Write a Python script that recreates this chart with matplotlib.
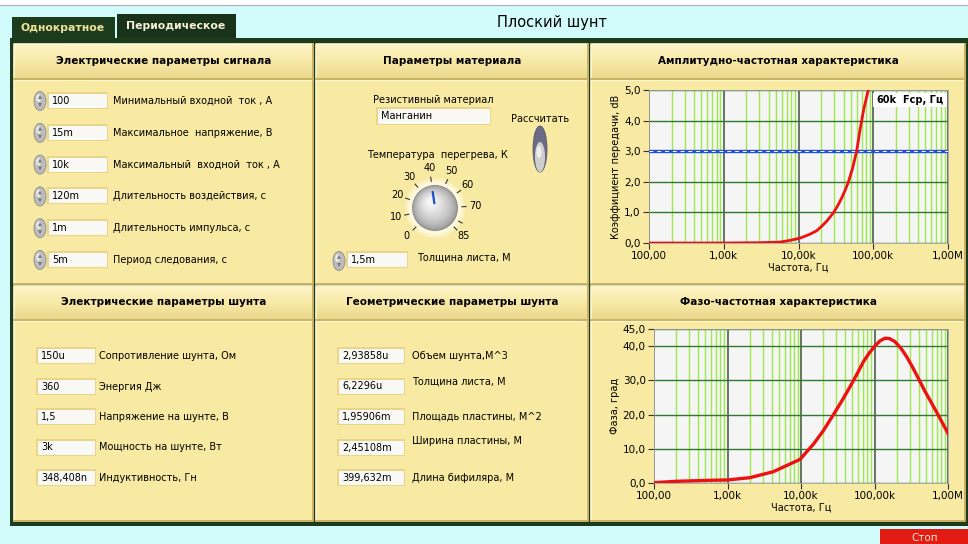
import numpy as np
import matplotlib.pyplot as plt
from matplotlib.patches import Rectangle, Ellipse, Circle, Polygon
from matplotlib.colors import LinearSegmentedColormap, to_rgb
from matplotlib.ticker import LogLocator

# --- данные ---
sig_values = ["100", "15m", "10k", "120m", "1m", "5m"]
sig_labels = ["Минимальный входной  ток , А", "Максимальное  напряжение, В",
              "Максимальный  входной  ток , А", "Длительность воздействия, с",
              "Длительность импульса, с", "Период следования, с"]

shunt_values = ["150u", "360", "1,5", "3k", "348,408n"]
shunt_labels = ["Сопротивление шунта, Ом", "Энергия Дж", "Напряжение на шунте, В",
                "Мощность на шунте, Вт", "Индуктивность, Гн"]

geom_values = ["2,93858u", "6,2296u", "1,95906m", "2,45108m", "399,632m"]
geom_labels = ["Объем шунта,М^3", "Толщина листа, М", "Площадь пластины, М^2",
               "Ширина пластины, М", "Длина бифиляра, М"]

material = "Манганин"
sheet_thickness = "1,5m"
dial_ticks = [0, 10, 20, 30, 40, 50, 60, 70, 85]
dial_value = 40
dial_max = 85

fcp = 60000
amp_freq = [100, 1000, 3000, 5660, 7500, 10500, 14000, 17500, 20500, 23800,
            29200, 33500, 37800, 42000, 46300, 53000, 60000, 66500, 75200, 85900]
amp_gain = [0.0, 0.0, 0.01, 0.03, 0.08, 0.16, 0.28, 0.40, 0.55, 0.71,
            0.98, 1.22, 1.47, 1.72, 1.98, 2.45, 3.0, 3.70, 4.41, 5.0]

phase_freq = [100, 204, 609, 1020, 2020, 4200, 9700, 14700, 20000, 27500,
              36000, 46400, 58000, 70500, 85000, 101600, 120000, 139000,
              160000, 190000, 230000, 274000, 330000, 395000, 480000,
              600000, 760000, 1000000]
phase_deg = [0.1, 0.5, 0.8, 0.9, 1.56, 3.3, 6.9, 11.3, 15.2, 19.9,
             24.0, 28.1, 31.9, 35.4, 38.0, 40.1, 41.6, 42.3,
             42.2, 41.3, 39.3, 36.9, 33.8, 30.6, 27.0,
             23.3, 19.3, 14.5]

freq_ticks = [1e2, 1e3, 1e4, 1e5, 1e6]
freq_tick_labels = ["100,00", "1,00k", "10,00k", "100,00k", "1,00M"]
gain_ticks = [0, 1, 2, 3, 4, 5]
gain_tick_labels = ["0,0", "1,0", "2,0", "3,0", "4,0", "5,0"]
phase_ticks = [0, 10, 20, 30, 40, 45]
phase_tick_labels = ["0,0", "10,0", "20,0", "30,0", "40,0", "45,0"]

W, H = 968, 544
PANEL = "#f8eaa2"
HI = "#fff9d8"
SHADE = "#c9b265"
FRAME = "#1d3b1d"

fig = plt.figure(figsize=(9.68, 5.44), dpi=100)
fig.patch.set_facecolor("#d2fcfc")
bg = fig.add_axes([0, 0, 1, 1])
bg.axis("off")

hdr_cmap = LinearSegmentedColormap.from_list("hdr", ["#fdf4c6", "#f8e9a6", "#ead78c"])


def rect(x0, y0, x1, y1, fc, z=1, ec="none", lw=0):
    bg.add_patch(Rectangle((x0, y0), x1 - x0, y1 - y0, facecolor=fc,
                           edgecolor=ec, linewidth=lw, zorder=z))


def bevel(x0, y0, x1, y1, z=3):
    bg.plot([x0, x0, x1], [y1, y0, y0], color=HI, lw=1.2, zorder=z)
    bg.plot([x0, x1, x1], [y1, y1, y0], color=SHADE, lw=1.4, zorder=z)


def panel(x0, y0, x1, y1):
    rect(x0, y0, x1, y1, PANEL, z=2)
    bevel(x0, y0, x1, y1)


def header(x0, y0, x1, y1, text):
    grad = np.linspace(0, 1, 40).reshape(-1, 1)
    bg.imshow(grad, extent=[x0, x1, y1, y0], cmap=hdr_cmap, aspect="auto",
              zorder=2, interpolation="bilinear")
    bevel(x0, y0, x1, y1)
    bg.text((x0 + x1) / 2, (y0 + y1) / 2 - 1, text, ha="center", va="center",
            fontsize=7.5, fontweight="bold", color="black", zorder=5)


def field(x0, yc, x1, text, h=14):
    rect(x0 - 2, yc - h / 2 - 2, x1 + 1, yc + h / 2 + 1, "#ead48a", z=4)
    rect(x0, yc - h / 2, x1, yc + h / 2, "#f8f8f4", z=4)
    bg.text(x0 + 3, yc, text, ha="left", va="center", fontsize=7, zorder=5)


def spinner(xc, yc):
    bg.add_patch(Ellipse((xc, yc), 12, 19, facecolor="#bdbdbd",
                         edgecolor="#8a8a8a", lw=0.6, zorder=4))
    bg.add_patch(Ellipse((xc - 1.5, yc - 3), 5, 8, facecolor="#e6e6e6",
                         edgecolor="none", zorder=4))
    bg.add_patch(Polygon([[xc - 2, yc - 2], [xc + 2, yc - 2], [xc, yc - 6]],
                         closed=True, fc="#7a7a7a", zorder=5))
    bg.add_patch(Polygon([[xc - 2, yc + 2], [xc + 2, yc + 2], [xc, yc + 6]],
                         closed=True, fc="#7a7a7a", zorder=5))


# фон, вкладки, заголовок
rect(0, 0, W, 5, "white", z=1)
bg.plot([0, W], [5, 5], color="#b0b0b0", lw=0.8, zorder=1)
rect(12, 17, 115, 40, FRAME, z=1)
rect(117, 14, 236, 40, "#18331a", z=1)
bg.text(63, 28, "Однократное", ha="center", va="center", fontsize=7.8,
        fontweight="bold", color="#efe39a", zorder=3)
bg.text(176, 26, "Периодическое", ha="center", va="center", fontsize=7.8,
        fontweight="bold", color="#f6efd6", zorder=3)
bg.text(552, 22, "Плоский шунт", ha="center", va="center", fontsize=10.5,
        color="black", zorder=3)

rect(10, 38, W, 526, FRAME, z=1)

cols = [(14, 313), (316, 588), (591, 965)]
for x0, x1 in cols:
    panel(x0, 80, x1, 284)
    panel(x0, 321, x1, 521)

header(14, 44, 313, 79, "Электрические параметры сигнала")
header(316, 44, 588, 79, "Параметры материала")
header(591, 44, 965, 79, "Амплитудно-частотная характеристика")
header(14, 286, 313, 320, "Электрические параметры шунта")
header(316, 286, 588, 320, "Геометрические параметры шунта")
header(591, 286, 965, 320, "Фазо-частотная характеристика")

# электрические параметры сигнала
for i, (v, lab) in enumerate(zip(sig_values, sig_labels)):
    yc = 101 + i * 31.8
    spinner(40, yc)
    field(49, yc, 107, v)
    bg.text(113, yc, lab, ha="left", va="center", fontsize=7, zorder=5)

# электрические параметры шунта
for i, (v, lab) in enumerate(zip(shunt_values, shunt_labels)):
    yc = 356 + i * 30.5
    field(38, yc, 95, v)
    bg.text(99, yc, lab, ha="left", va="center", fontsize=7, zorder=5)

# геометрические параметры шунта
geom_dy = [0, -5, 0, -6, 0]
for i, (v, lab) in enumerate(zip(geom_values, geom_labels)):
    yc = 356 + i * 30.5
    field(339, yc, 404, v)
    bg.text(412, yc + geom_dy[i], lab, ha="left", va="center", fontsize=7, zorder=5)

# параметры материала
bg.text(433, 100, "Резистивный материал", ha="center", va="center", fontsize=7, zorder=5)
field(378, 116, 490, material, h=15)
bg.text(540, 119, "Рассчитать", ha="center", va="center", fontsize=7, zorder=5)
bg.add_patch(Ellipse((540, 149), 14, 46, facecolor="#6c6c86", edgecolor="#55556a",
                     lw=0.6, zorder=4))
bg.add_patch(Ellipse((540, 157), 10, 30, facecolor="#cfcfcf", edgecolor="none", zorder=5))
bg.add_patch(Ellipse((539, 152), 5, 12, facecolor="#efefef", edgecolor="none", zorder=5))
bg.text(437, 155, "Температура  перегрева, К", ha="center", va="center",
        fontsize=7, zorder=5)

cx, cy = 435, 208
for r, c in [(30, "#fbf1bf"), (27, "#fff9dc")]:
    bg.add_patch(Circle((cx, cy), r, facecolor=c, edgecolor="none", zorder=4))
dark, light = np.array(to_rgb("#8e8e8e")), np.array(to_rgb("#f6f6f6"))
n = 24
for i in range(n):
    t = i / (n - 1)
    r = 23 * (1 - 0.85 * t)
    off = 6 * t
    bg.add_patch(Circle((cx - off * 0.7, cy - off), r,
                        facecolor=dark + (light - dark) * t ** 0.6,
                        edgecolor="none", zorder=5))
for v in list(range(0, 81, 10)) + [85]:
    a = np.radians(225 - 270 * v / dial_max)
    bg.plot([cx + 27 * np.cos(a), cx + 31 * np.cos(a)],
            [cy - 27 * np.sin(a), cy - 31 * np.sin(a)], color="#333333", lw=0.8, zorder=5)
for v in dial_ticks:
    a = np.radians(225 - 270 * v / dial_max)
    bg.text(cx + 40 * np.cos(a), cy - 40 * np.sin(a), str(v), ha="center",
            va="center", fontsize=7, zorder=5)
a = np.radians(225 - 270 * dial_value / dial_max)
bg.plot([cx + 5 * np.cos(a), cx + 16 * np.cos(a)],
        [cy - 5 * np.sin(a), cy - 16 * np.sin(a)], color="#1a4fd0", lw=1.6, zorder=6)

spinner(339, 261)
field(348, 260, 407, sheet_thickness)
bg.text(417, 258, "Толщина листа, М", ha="left", va="center", fontsize=7, zorder=5)

# кнопка Стоп
rect(880, 529, W, H, "#e21c12", z=2)
bg.text(925, 538, "Стоп", ha="center", va="center", fontsize=7.5,
        color="#ffe6d0", zorder=3)

bg.set_xlim(0, W)
bg.set_ylim(H, 0)


def px_axes(x0, y0, x1, y1):
    return fig.add_axes([x0 / W, 1 - y1 / H, (x1 - x0) / W, (y1 - y0) / H])


def style_chart(ax, yticks, ylabels, ylim, ylab):
    ax.set_facecolor("#f5f5f5")
    ax.set_xscale("log")
    ax.set_xlim(1e2, 1e6)
    ax.set_ylim(*ylim)
    ax.xaxis.set_minor_locator(LogLocator(base=10, subs=np.arange(2, 10)))
    ax.set_xticks(freq_ticks, freq_tick_labels)
    ax.set_yticks(yticks, ylabels)
    ax.grid(which="minor", axis="x", color="#9fe84e", lw=1.0)
    ax.grid(which="major", axis="x", color="#4d5d4d", lw=1.2)
    ax.grid(which="major", axis="y", color="#2f7a2f", lw=1.0)
    ax.set_axisbelow(True)
    ax.tick_params(which="minor", length=0)
    ax.tick_params(which="major", direction="out", length=4, width=0.8,
                   color="#333333", labelsize=7.5, pad=2)
    for s in ax.spines.values():
        s.set_color("#a0a0a0")
        s.set_linewidth(0.6)
    ax.set_xlabel("Частота, Гц", fontsize=7, labelpad=1)
    ax.set_ylabel(ylab, fontsize=7, labelpad=2)


ax1 = px_axes(649, 90, 948, 243)
style_chart(ax1, gain_ticks, gain_tick_labels, (0, 5), "Коэффициент передачи, dB")
ax1.axhline(3.0, color="#2250d8", lw=2.4, zorder=3)
ax1.axhline(3.0, color="white", lw=0.7, ls=(0, (4, 4)), zorder=3)
ax1.plot(amp_freq, amp_gain, color="#ee1111", lw=2.0, zorder=4,
         solid_joinstyle="round")
ax1.add_patch(Rectangle((0.749, 0.889), 0.248, 0.091, transform=ax1.transAxes,
                        facecolor="white", edgecolor="none", zorder=5))
ax1.text(0.762, 0.934, f"{fcp // 1000}k", transform=ax1.transAxes, ha="left",
         va="center", fontsize=7, fontweight="bold", zorder=6)
ax1.text(0.985, 0.934, "Fcp, Гц", transform=ax1.transAxes, ha="right",
         va="center", fontsize=7, fontweight="bold", zorder=6)

ax2 = px_axes(654, 329, 948, 483)
style_chart(ax2, phase_ticks, phase_tick_labels, (0, 45), "Фаза, град")
ax2.plot(phase_freq, phase_deg, color="#ee1111", lw=2.4, zorder=4,
         solid_joinstyle="round")

fig.savefig("out.png", dpi=100, facecolor=fig.get_facecolor())
